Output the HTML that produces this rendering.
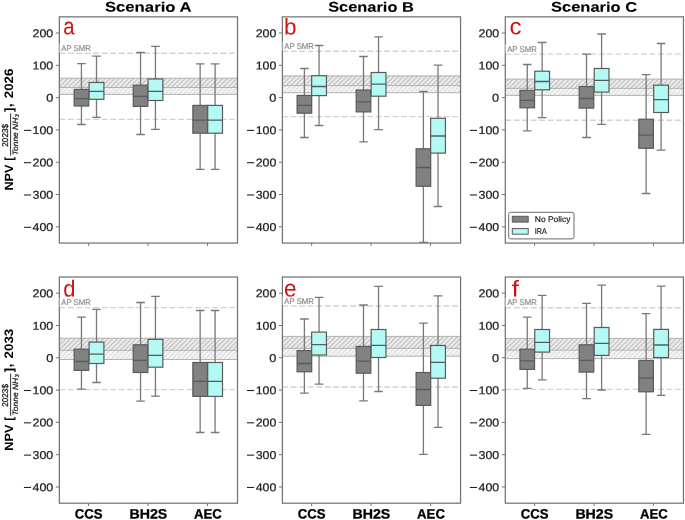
<!DOCTYPE html><html><head><meta charset="utf-8"><style>html,body{margin:0;padding:0;background:#fff;}svg{display:block;will-change:transform;}text{font-family:"Liberation Sans",sans-serif;text-rendering:geometricPrecision;}</style></head><body>
<svg width="685" height="520" viewBox="0 0 685 520">
<defs>
<pattern id="h1" patternUnits="userSpaceOnUse" width="3.32" height="3.32" patternTransform="rotate(45)"><rect width="3.32" height="3.32" fill="#ebebeb"/><line x1="0.5" y1="0" x2="0.5" y2="3.32" stroke="#bcbcbc" stroke-width="1.0"/></pattern>
<pattern id="h2" patternUnits="userSpaceOnUse" width="3.32" height="3.32" patternTransform="rotate(45)"><rect width="3.32" height="3.32" fill="#f5f5f5"/><line x1="0.5" y1="0" x2="0.5" y2="3.32" stroke="#dbdbdb" stroke-width="1.0"/></pattern>
<clipPath id="cpa"><rect x="59.35" y="16.85" width="178.15" height="226.2"/></clipPath>
<clipPath id="cpb"><rect x="282.4" y="16.85" width="178.15" height="226.2"/></clipPath>
<clipPath id="cpc"><rect x="505.3" y="16.85" width="178.15" height="226.2"/></clipPath>
<clipPath id="cpd"><rect x="59.35" y="277.0" width="178.15" height="226.2"/></clipPath>
<clipPath id="cpe"><rect x="282.4" y="277.0" width="178.15" height="226.2"/></clipPath>
<clipPath id="cpf"><rect x="505.3" y="277.0" width="178.15" height="226.2"/></clipPath>
</defs>
<rect width="685" height="520" fill="#fff"/>
<g clip-path="url(#cpa)">
<rect x="59.35" y="78.2" width="178.15" height="9.3" fill="url(#h1)"/>
<rect x="59.35" y="87.5" width="178.15" height="6.9" fill="url(#h2)"/>
<line x1="59.35" x2="237.5" y1="78.2" y2="78.2" stroke="#ababab" stroke-width="0.9"/>
<line x1="59.35" x2="237.5" y1="87.5" y2="87.5" stroke="#ababab" stroke-width="0.9"/>
<line x1="59.35" x2="237.5" y1="94.4" y2="94.4" stroke="#ababab" stroke-width="0.9"/>
<line x1="59.35" x2="237.5" y1="53.3" y2="53.3" stroke="#d2d2d2" stroke-width="1.4" stroke-dasharray="5.85 2.63"/>
<line x1="59.35" x2="237.5" y1="119.4" y2="119.4" stroke="#d2d2d2" stroke-width="1.4" stroke-dasharray="5.85 2.63"/>
<line x1="81.45" x2="81.45" y1="63.6" y2="89.4" stroke="#787878" stroke-width="1.3"/>
<line x1="81.45" x2="81.45" y1="106" y2="124.5" stroke="#787878" stroke-width="1.3"/>
<line x1="77.15" x2="85.75" y1="63.6" y2="63.6" stroke="#787878" stroke-width="1.3"/>
<line x1="77.15" x2="85.75" y1="124.5" y2="124.5" stroke="#787878" stroke-width="1.3"/>
<rect x="74.15" y="89.4" width="14.6" height="16.6" fill="#7f8280" stroke="#5a5a5a" stroke-width="1.2"/>
<line x1="74.15" x2="88.75" y1="98.6" y2="98.6" stroke="#5a5a5a" stroke-width="1.3"/>
<line x1="96.5" x2="96.5" y1="56.1" y2="82.5" stroke="#787878" stroke-width="1.3"/>
<line x1="96.5" x2="96.5" y1="99.3" y2="117.4" stroke="#787878" stroke-width="1.3"/>
<line x1="92.2" x2="100.8" y1="56.1" y2="56.1" stroke="#787878" stroke-width="1.3"/>
<line x1="92.2" x2="100.8" y1="117.4" y2="117.4" stroke="#787878" stroke-width="1.3"/>
<rect x="89.1" y="82.5" width="14.8" height="16.8" fill="#b4faf4" stroke="#5a5a5a" stroke-width="1.2"/>
<line x1="89.1" x2="103.9" y1="91.4" y2="91.4" stroke="#5a5a5a" stroke-width="1.3"/>
<line x1="140.55" x2="140.55" y1="52.5" y2="85.2" stroke="#787878" stroke-width="1.3"/>
<line x1="140.55" x2="140.55" y1="106.4" y2="134.5" stroke="#787878" stroke-width="1.3"/>
<line x1="136.25" x2="144.85" y1="52.5" y2="52.5" stroke="#787878" stroke-width="1.3"/>
<line x1="136.25" x2="144.85" y1="134.5" y2="134.5" stroke="#787878" stroke-width="1.3"/>
<rect x="133.25" y="85.2" width="14.6" height="21.2" fill="#7f8280" stroke="#5a5a5a" stroke-width="1.2"/>
<line x1="133.25" x2="147.85" y1="96.4" y2="96.4" stroke="#5a5a5a" stroke-width="1.3"/>
<line x1="155.45" x2="155.45" y1="46.4" y2="79" stroke="#787878" stroke-width="1.3"/>
<line x1="155.45" x2="155.45" y1="100.5" y2="129.4" stroke="#787878" stroke-width="1.3"/>
<line x1="151.15" x2="159.75" y1="46.4" y2="46.4" stroke="#787878" stroke-width="1.3"/>
<line x1="151.15" x2="159.75" y1="129.4" y2="129.4" stroke="#787878" stroke-width="1.3"/>
<rect x="148.05" y="79" width="14.8" height="21.5" fill="#b4faf4" stroke="#5a5a5a" stroke-width="1.2"/>
<line x1="148.05" x2="162.85" y1="91.4" y2="91.4" stroke="#5a5a5a" stroke-width="1.3"/>
<line x1="200.15" x2="200.15" y1="63.8" y2="105.4" stroke="#787878" stroke-width="1.3"/>
<line x1="200.15" x2="200.15" y1="133.2" y2="169.4" stroke="#787878" stroke-width="1.3"/>
<line x1="195.85" x2="204.45" y1="63.8" y2="63.8" stroke="#787878" stroke-width="1.3"/>
<line x1="195.85" x2="204.45" y1="169.4" y2="169.4" stroke="#787878" stroke-width="1.3"/>
<rect x="192.85" y="105.4" width="14.6" height="27.8" fill="#7f8280" stroke="#5a5a5a" stroke-width="1.2"/>
<line x1="192.85" x2="207.45" y1="120.2" y2="120.2" stroke="#5a5a5a" stroke-width="1.3"/>
<line x1="215.1" x2="215.1" y1="63.8" y2="105.4" stroke="#787878" stroke-width="1.3"/>
<line x1="215.1" x2="215.1" y1="133.2" y2="169.4" stroke="#787878" stroke-width="1.3"/>
<line x1="210.8" x2="219.4" y1="63.8" y2="63.8" stroke="#787878" stroke-width="1.3"/>
<line x1="210.8" x2="219.4" y1="169.4" y2="169.4" stroke="#787878" stroke-width="1.3"/>
<rect x="207.7" y="105.4" width="14.8" height="27.8" fill="#b4faf4" stroke="#5a5a5a" stroke-width="1.2"/>
<line x1="207.7" x2="222.5" y1="120.2" y2="120.2" stroke="#5a5a5a" stroke-width="1.3"/>
</g>
<rect x="59.35" y="16.85" width="178.15" height="226.2" fill="none" stroke="#747474" stroke-width="1.25"/>
<line x1="88.6" x2="88.6" y1="243.05" y2="245.85" stroke="#747474" stroke-width="1"/>
<line x1="148.05" x2="148.05" y1="243.05" y2="245.85" stroke="#747474" stroke-width="1"/>
<line x1="207.5" x2="207.5" y1="243.05" y2="245.85" stroke="#747474" stroke-width="1"/>
<rect x="59.35" y="43.4" width="32.5" height="9.3" fill="#fff" fill-opacity="0.55"/>
<text x="61.25" y="50.9" font-size="8.3" fill="#8a8a8a" stroke="#8a8a8a" stroke-width="0.18" textLength="29.6" lengthAdjust="spacingAndGlyphs">AP SMR</text>
<line x1="55.85" x2="59.35" y1="33" y2="33" stroke="#747474" stroke-width="1"/>
<text x="53.25" y="37.25" transform="rotate(0.1 53.25 37.25)" font-size="11.4" fill="#1a1a1a" stroke="#1a1a1a" stroke-width="0.22" text-anchor="end" textLength="20.64" lengthAdjust="spacingAndGlyphs">200</text>
<line x1="55.85" x2="59.35" y1="65.31" y2="65.31" stroke="#747474" stroke-width="1"/>
<text x="53.25" y="69.56" transform="rotate(0.1 53.25 69.56)" font-size="11.4" fill="#1a1a1a" stroke="#1a1a1a" stroke-width="0.22" text-anchor="end" textLength="20.64" lengthAdjust="spacingAndGlyphs">100</text>
<line x1="55.85" x2="59.35" y1="97.61" y2="97.61" stroke="#747474" stroke-width="1"/>
<text x="53.25" y="101.86" transform="rotate(0.1 53.25 101.86)" font-size="11.4" fill="#1a1a1a" stroke="#1a1a1a" stroke-width="0.22" text-anchor="end" textLength="7.08" lengthAdjust="spacingAndGlyphs">0</text>
<line x1="55.85" x2="59.35" y1="129.92" y2="129.92" stroke="#747474" stroke-width="1"/>
<text x="53.25" y="134.17" transform="rotate(0.1 53.25 134.17)" font-size="11.4" fill="#1a1a1a" stroke="#1a1a1a" stroke-width="0.22" text-anchor="end" textLength="20.64" lengthAdjust="spacingAndGlyphs">100</text>
<line x1="23.9" x2="31.1" y1="130.37" y2="130.37" stroke="#1a1a1a" stroke-width="1.05"/>
<line x1="55.85" x2="59.35" y1="162.23" y2="162.23" stroke="#747474" stroke-width="1"/>
<text x="53.25" y="166.48" transform="rotate(0.1 53.25 166.48)" font-size="11.4" fill="#1a1a1a" stroke="#1a1a1a" stroke-width="0.22" text-anchor="end" textLength="20.64" lengthAdjust="spacingAndGlyphs">200</text>
<line x1="23.9" x2="31.1" y1="162.68" y2="162.68" stroke="#1a1a1a" stroke-width="1.05"/>
<line x1="55.85" x2="59.35" y1="194.54" y2="194.54" stroke="#747474" stroke-width="1"/>
<text x="53.25" y="198.79" transform="rotate(0.1 53.25 198.79)" font-size="11.4" fill="#1a1a1a" stroke="#1a1a1a" stroke-width="0.22" text-anchor="end" textLength="20.64" lengthAdjust="spacingAndGlyphs">300</text>
<line x1="23.9" x2="31.1" y1="194.99" y2="194.99" stroke="#1a1a1a" stroke-width="1.05"/>
<line x1="55.85" x2="59.35" y1="226.84" y2="226.84" stroke="#747474" stroke-width="1"/>
<text x="53.25" y="231.09" transform="rotate(0.1 53.25 231.09)" font-size="11.4" fill="#1a1a1a" stroke="#1a1a1a" stroke-width="0.22" text-anchor="end" textLength="20.64" lengthAdjust="spacingAndGlyphs">400</text>
<line x1="23.9" x2="31.1" y1="227.29" y2="227.29" stroke="#1a1a1a" stroke-width="1.05"/>
<text transform="translate(68.9,34.35) rotate(0.1) scale(0.92,1.07)" text-anchor="middle" font-size="22" fill="#d0120c">a</text>
<g clip-path="url(#cpb)">
<rect x="282.4" y="75.9" width="178.15" height="9.7" fill="url(#h1)"/>
<rect x="282.4" y="85.6" width="178.15" height="7.1" fill="url(#h2)"/>
<line x1="282.4" x2="460.54999999999995" y1="75.9" y2="75.9" stroke="#ababab" stroke-width="0.9"/>
<line x1="282.4" x2="460.54999999999995" y1="85.6" y2="85.6" stroke="#ababab" stroke-width="0.9"/>
<line x1="282.4" x2="460.54999999999995" y1="92.7" y2="92.7" stroke="#ababab" stroke-width="0.9"/>
<line x1="282.4" x2="460.54999999999995" y1="51.3" y2="51.3" stroke="#d2d2d2" stroke-width="1.4" stroke-dasharray="5.85 2.63"/>
<line x1="282.4" x2="460.54999999999995" y1="116.6" y2="116.6" stroke="#d2d2d2" stroke-width="1.4" stroke-dasharray="5.85 2.63"/>
<line x1="304.4" x2="304.4" y1="68.5" y2="95.4" stroke="#787878" stroke-width="1.3"/>
<line x1="304.4" x2="304.4" y1="113.2" y2="137.5" stroke="#787878" stroke-width="1.3"/>
<line x1="300.1" x2="308.7" y1="68.5" y2="68.5" stroke="#787878" stroke-width="1.3"/>
<line x1="300.1" x2="308.7" y1="137.5" y2="137.5" stroke="#787878" stroke-width="1.3"/>
<rect x="297.1" y="95.4" width="14.6" height="17.8" fill="#7f8280" stroke="#5a5a5a" stroke-width="1.2"/>
<line x1="297.1" x2="311.7" y1="105.4" y2="105.4" stroke="#5a5a5a" stroke-width="1.3"/>
<line x1="319.05" x2="319.05" y1="45.5" y2="75.7" stroke="#787878" stroke-width="1.3"/>
<line x1="319.05" x2="319.05" y1="95.6" y2="125.5" stroke="#787878" stroke-width="1.3"/>
<line x1="314.75" x2="323.35" y1="45.5" y2="45.5" stroke="#787878" stroke-width="1.3"/>
<line x1="314.75" x2="323.35" y1="125.5" y2="125.5" stroke="#787878" stroke-width="1.3"/>
<rect x="311.65" y="75.7" width="14.8" height="19.9" fill="#b4faf4" stroke="#5a5a5a" stroke-width="1.2"/>
<line x1="311.65" x2="326.45" y1="86.5" y2="86.5" stroke="#5a5a5a" stroke-width="1.3"/>
<line x1="363.5" x2="363.5" y1="56.5" y2="90" stroke="#787878" stroke-width="1.3"/>
<line x1="363.5" x2="363.5" y1="111.9" y2="141.9" stroke="#787878" stroke-width="1.3"/>
<line x1="359.2" x2="367.8" y1="56.5" y2="56.5" stroke="#787878" stroke-width="1.3"/>
<line x1="359.2" x2="367.8" y1="141.9" y2="141.9" stroke="#787878" stroke-width="1.3"/>
<rect x="356.2" y="90" width="14.6" height="21.9" fill="#7f8280" stroke="#5a5a5a" stroke-width="1.2"/>
<line x1="356.2" x2="370.8" y1="101.9" y2="101.9" stroke="#5a5a5a" stroke-width="1.3"/>
<line x1="378.55" x2="378.55" y1="36.8" y2="72.5" stroke="#787878" stroke-width="1.3"/>
<line x1="378.55" x2="378.55" y1="96.2" y2="129.7" stroke="#787878" stroke-width="1.3"/>
<line x1="374.25" x2="382.85" y1="36.8" y2="36.8" stroke="#787878" stroke-width="1.3"/>
<line x1="374.25" x2="382.85" y1="129.7" y2="129.7" stroke="#787878" stroke-width="1.3"/>
<rect x="371.15" y="72.5" width="14.8" height="23.7" fill="#b4faf4" stroke="#5a5a5a" stroke-width="1.2"/>
<line x1="371.15" x2="385.95" y1="84.2" y2="84.2" stroke="#5a5a5a" stroke-width="1.3"/>
<line x1="423.4" x2="423.4" y1="91.5" y2="148.8" stroke="#787878" stroke-width="1.3"/>
<line x1="423.4" x2="423.4" y1="186.3" y2="242.5" stroke="#787878" stroke-width="1.3"/>
<line x1="419.1" x2="427.7" y1="91.5" y2="91.5" stroke="#787878" stroke-width="1.3"/>
<line x1="419.1" x2="427.7" y1="242.5" y2="242.5" stroke="#787878" stroke-width="1.3"/>
<rect x="416.1" y="148.8" width="14.6" height="37.5" fill="#7f8280" stroke="#5a5a5a" stroke-width="1.2"/>
<line x1="416.1" x2="430.7" y1="167.5" y2="167.5" stroke="#5a5a5a" stroke-width="1.3"/>
<line x1="438.04" x2="438.04" y1="65.2" y2="118.3" stroke="#787878" stroke-width="1.3"/>
<line x1="438.04" x2="438.04" y1="153.1" y2="206.5" stroke="#787878" stroke-width="1.3"/>
<line x1="433.74" x2="442.34" y1="65.2" y2="65.2" stroke="#787878" stroke-width="1.3"/>
<line x1="433.74" x2="442.34" y1="206.5" y2="206.5" stroke="#787878" stroke-width="1.3"/>
<rect x="430.64" y="118.3" width="14.8" height="34.8" fill="#b4faf4" stroke="#5a5a5a" stroke-width="1.2"/>
<line x1="430.64" x2="445.44" y1="136" y2="136" stroke="#5a5a5a" stroke-width="1.3"/>
</g>
<rect x="282.4" y="16.85" width="178.15" height="226.2" fill="none" stroke="#747474" stroke-width="1.25"/>
<line x1="311.65" x2="311.65" y1="243.05" y2="245.85" stroke="#747474" stroke-width="1"/>
<line x1="371.1" x2="371.1" y1="243.05" y2="245.85" stroke="#747474" stroke-width="1"/>
<line x1="430.55" x2="430.55" y1="243.05" y2="245.85" stroke="#747474" stroke-width="1"/>
<rect x="282.4" y="41.4" width="32.5" height="9.3" fill="#fff" fill-opacity="0.55"/>
<text x="284.3" y="48.9" font-size="8.3" fill="#8a8a8a" stroke="#8a8a8a" stroke-width="0.18" textLength="29.6" lengthAdjust="spacingAndGlyphs">AP SMR</text>
<line x1="278.9" x2="282.4" y1="33" y2="33" stroke="#747474" stroke-width="1"/>
<text x="276.3" y="37.25" transform="rotate(0.1 276.3 37.25)" font-size="11.4" fill="#1a1a1a" stroke="#1a1a1a" stroke-width="0.22" text-anchor="end" textLength="20.64" lengthAdjust="spacingAndGlyphs">200</text>
<line x1="278.9" x2="282.4" y1="65.31" y2="65.31" stroke="#747474" stroke-width="1"/>
<text x="276.3" y="69.56" transform="rotate(0.1 276.3 69.56)" font-size="11.4" fill="#1a1a1a" stroke="#1a1a1a" stroke-width="0.22" text-anchor="end" textLength="20.64" lengthAdjust="spacingAndGlyphs">100</text>
<line x1="278.9" x2="282.4" y1="97.61" y2="97.61" stroke="#747474" stroke-width="1"/>
<text x="276.3" y="101.86" transform="rotate(0.1 276.3 101.86)" font-size="11.4" fill="#1a1a1a" stroke="#1a1a1a" stroke-width="0.22" text-anchor="end" textLength="7.08" lengthAdjust="spacingAndGlyphs">0</text>
<line x1="278.9" x2="282.4" y1="129.92" y2="129.92" stroke="#747474" stroke-width="1"/>
<text x="276.3" y="134.17" transform="rotate(0.1 276.3 134.17)" font-size="11.4" fill="#1a1a1a" stroke="#1a1a1a" stroke-width="0.22" text-anchor="end" textLength="20.64" lengthAdjust="spacingAndGlyphs">100</text>
<line x1="246.95" x2="254.15" y1="130.37" y2="130.37" stroke="#1a1a1a" stroke-width="1.05"/>
<line x1="278.9" x2="282.4" y1="162.23" y2="162.23" stroke="#747474" stroke-width="1"/>
<text x="276.3" y="166.48" transform="rotate(0.1 276.3 166.48)" font-size="11.4" fill="#1a1a1a" stroke="#1a1a1a" stroke-width="0.22" text-anchor="end" textLength="20.64" lengthAdjust="spacingAndGlyphs">200</text>
<line x1="246.95" x2="254.15" y1="162.68" y2="162.68" stroke="#1a1a1a" stroke-width="1.05"/>
<line x1="278.9" x2="282.4" y1="194.54" y2="194.54" stroke="#747474" stroke-width="1"/>
<text x="276.3" y="198.79" transform="rotate(0.1 276.3 198.79)" font-size="11.4" fill="#1a1a1a" stroke="#1a1a1a" stroke-width="0.22" text-anchor="end" textLength="20.64" lengthAdjust="spacingAndGlyphs">300</text>
<line x1="246.95" x2="254.15" y1="194.99" y2="194.99" stroke="#1a1a1a" stroke-width="1.05"/>
<line x1="278.9" x2="282.4" y1="226.84" y2="226.84" stroke="#747474" stroke-width="1"/>
<text x="276.3" y="231.09" transform="rotate(0.1 276.3 231.09)" font-size="11.4" fill="#1a1a1a" stroke="#1a1a1a" stroke-width="0.22" text-anchor="end" textLength="20.64" lengthAdjust="spacingAndGlyphs">400</text>
<line x1="246.95" x2="254.15" y1="227.29" y2="227.29" stroke="#1a1a1a" stroke-width="1.05"/>
<text transform="translate(290.3,34.4) rotate(0.1) scale(1.02,1.03)" text-anchor="middle" font-size="22" fill="#d0120c">b</text>
<g clip-path="url(#cpc)">
<rect x="505.3" y="79.1" width="178.15" height="9.3" fill="url(#h1)"/>
<rect x="505.3" y="88.4" width="178.15" height="7" fill="url(#h2)"/>
<line x1="505.3" x2="683.45" y1="79.1" y2="79.1" stroke="#ababab" stroke-width="0.9"/>
<line x1="505.3" x2="683.45" y1="88.4" y2="88.4" stroke="#ababab" stroke-width="0.9"/>
<line x1="505.3" x2="683.45" y1="95.4" y2="95.4" stroke="#ababab" stroke-width="0.9"/>
<line x1="505.3" x2="683.45" y1="54.1" y2="54.1" stroke="#d2d2d2" stroke-width="1.4" stroke-dasharray="5.85 2.63"/>
<line x1="505.3" x2="683.45" y1="120.2" y2="120.2" stroke="#d2d2d2" stroke-width="1.4" stroke-dasharray="5.85 2.63"/>
<line x1="527.25" x2="527.25" y1="64.5" y2="90.4" stroke="#787878" stroke-width="1.3"/>
<line x1="527.25" x2="527.25" y1="107.8" y2="130.8" stroke="#787878" stroke-width="1.3"/>
<line x1="522.95" x2="531.55" y1="64.5" y2="64.5" stroke="#787878" stroke-width="1.3"/>
<line x1="522.95" x2="531.55" y1="130.8" y2="130.8" stroke="#787878" stroke-width="1.3"/>
<rect x="519.95" y="90.4" width="14.6" height="17.4" fill="#7f8280" stroke="#5a5a5a" stroke-width="1.2"/>
<line x1="519.95" x2="534.55" y1="100.4" y2="100.4" stroke="#5a5a5a" stroke-width="1.3"/>
<line x1="542.15" x2="542.15" y1="42.5" y2="71.2" stroke="#787878" stroke-width="1.3"/>
<line x1="542.15" x2="542.15" y1="89.8" y2="117.7" stroke="#787878" stroke-width="1.3"/>
<line x1="537.85" x2="546.45" y1="42.5" y2="42.5" stroke="#787878" stroke-width="1.3"/>
<line x1="537.85" x2="546.45" y1="117.7" y2="117.7" stroke="#787878" stroke-width="1.3"/>
<rect x="534.75" y="71.2" width="14.8" height="18.6" fill="#b4faf4" stroke="#5a5a5a" stroke-width="1.2"/>
<line x1="534.75" x2="549.55" y1="81.5" y2="81.5" stroke="#5a5a5a" stroke-width="1.3"/>
<line x1="586.5" x2="586.5" y1="54.1" y2="86.5" stroke="#787878" stroke-width="1.3"/>
<line x1="586.5" x2="586.5" y1="108.1" y2="137.5" stroke="#787878" stroke-width="1.3"/>
<line x1="582.2" x2="590.8" y1="54.1" y2="54.1" stroke="#787878" stroke-width="1.3"/>
<line x1="582.2" x2="590.8" y1="137.5" y2="137.5" stroke="#787878" stroke-width="1.3"/>
<rect x="579.2" y="86.5" width="14.6" height="21.6" fill="#7f8280" stroke="#5a5a5a" stroke-width="1.2"/>
<line x1="579.2" x2="593.8" y1="98.5" y2="98.5" stroke="#5a5a5a" stroke-width="1.3"/>
<line x1="601.6" x2="601.6" y1="34" y2="68.5" stroke="#787878" stroke-width="1.3"/>
<line x1="601.6" x2="601.6" y1="92.1" y2="124.3" stroke="#787878" stroke-width="1.3"/>
<line x1="597.3" x2="605.9" y1="34" y2="34" stroke="#787878" stroke-width="1.3"/>
<line x1="597.3" x2="605.9" y1="124.3" y2="124.3" stroke="#787878" stroke-width="1.3"/>
<rect x="594.2" y="68.5" width="14.8" height="23.6" fill="#b4faf4" stroke="#5a5a5a" stroke-width="1.2"/>
<line x1="594.2" x2="609" y1="80.4" y2="80.4" stroke="#5a5a5a" stroke-width="1.3"/>
<line x1="646.1" x2="646.1" y1="74.6" y2="119.2" stroke="#787878" stroke-width="1.3"/>
<line x1="646.1" x2="646.1" y1="148.3" y2="193.5" stroke="#787878" stroke-width="1.3"/>
<line x1="641.8" x2="650.4" y1="74.6" y2="74.6" stroke="#787878" stroke-width="1.3"/>
<line x1="641.8" x2="650.4" y1="193.5" y2="193.5" stroke="#787878" stroke-width="1.3"/>
<rect x="638.8" y="119.2" width="14.6" height="29.1" fill="#7f8280" stroke="#5a5a5a" stroke-width="1.2"/>
<line x1="638.8" x2="653.4" y1="135.2" y2="135.2" stroke="#5a5a5a" stroke-width="1.3"/>
<line x1="661.1" x2="661.1" y1="43.5" y2="85.2" stroke="#787878" stroke-width="1.3"/>
<line x1="661.1" x2="661.1" y1="112.5" y2="150.2" stroke="#787878" stroke-width="1.3"/>
<line x1="656.8" x2="665.4" y1="43.5" y2="43.5" stroke="#787878" stroke-width="1.3"/>
<line x1="656.8" x2="665.4" y1="150.2" y2="150.2" stroke="#787878" stroke-width="1.3"/>
<rect x="653.7" y="85.2" width="14.8" height="27.3" fill="#b4faf4" stroke="#5a5a5a" stroke-width="1.2"/>
<line x1="653.7" x2="668.5" y1="99.6" y2="99.6" stroke="#5a5a5a" stroke-width="1.3"/>
</g>
<rect x="505.3" y="16.85" width="178.15" height="226.2" fill="none" stroke="#747474" stroke-width="1.25"/>
<line x1="534.55" x2="534.55" y1="243.05" y2="245.85" stroke="#747474" stroke-width="1"/>
<line x1="594" x2="594" y1="243.05" y2="245.85" stroke="#747474" stroke-width="1"/>
<line x1="653.45" x2="653.45" y1="243.05" y2="245.85" stroke="#747474" stroke-width="1"/>
<rect x="505.3" y="44.2" width="32.5" height="9.3" fill="#fff" fill-opacity="0.55"/>
<text x="507.2" y="51.7" font-size="8.3" fill="#8a8a8a" stroke="#8a8a8a" stroke-width="0.18" textLength="29.6" lengthAdjust="spacingAndGlyphs">AP SMR</text>
<line x1="501.8" x2="505.3" y1="33" y2="33" stroke="#747474" stroke-width="1"/>
<text x="499.2" y="37.25" transform="rotate(0.1 499.2 37.25)" font-size="11.4" fill="#1a1a1a" stroke="#1a1a1a" stroke-width="0.22" text-anchor="end" textLength="20.64" lengthAdjust="spacingAndGlyphs">200</text>
<line x1="501.8" x2="505.3" y1="65.31" y2="65.31" stroke="#747474" stroke-width="1"/>
<text x="499.2" y="69.56" transform="rotate(0.1 499.2 69.56)" font-size="11.4" fill="#1a1a1a" stroke="#1a1a1a" stroke-width="0.22" text-anchor="end" textLength="20.64" lengthAdjust="spacingAndGlyphs">100</text>
<line x1="501.8" x2="505.3" y1="97.61" y2="97.61" stroke="#747474" stroke-width="1"/>
<text x="499.2" y="101.86" transform="rotate(0.1 499.2 101.86)" font-size="11.4" fill="#1a1a1a" stroke="#1a1a1a" stroke-width="0.22" text-anchor="end" textLength="7.08" lengthAdjust="spacingAndGlyphs">0</text>
<line x1="501.8" x2="505.3" y1="129.92" y2="129.92" stroke="#747474" stroke-width="1"/>
<text x="499.2" y="134.17" transform="rotate(0.1 499.2 134.17)" font-size="11.4" fill="#1a1a1a" stroke="#1a1a1a" stroke-width="0.22" text-anchor="end" textLength="20.64" lengthAdjust="spacingAndGlyphs">100</text>
<line x1="469.85" x2="477.05" y1="130.37" y2="130.37" stroke="#1a1a1a" stroke-width="1.05"/>
<line x1="501.8" x2="505.3" y1="162.23" y2="162.23" stroke="#747474" stroke-width="1"/>
<text x="499.2" y="166.48" transform="rotate(0.1 499.2 166.48)" font-size="11.4" fill="#1a1a1a" stroke="#1a1a1a" stroke-width="0.22" text-anchor="end" textLength="20.64" lengthAdjust="spacingAndGlyphs">200</text>
<line x1="469.85" x2="477.05" y1="162.68" y2="162.68" stroke="#1a1a1a" stroke-width="1.05"/>
<line x1="501.8" x2="505.3" y1="194.54" y2="194.54" stroke="#747474" stroke-width="1"/>
<text x="499.2" y="198.79" transform="rotate(0.1 499.2 198.79)" font-size="11.4" fill="#1a1a1a" stroke="#1a1a1a" stroke-width="0.22" text-anchor="end" textLength="20.64" lengthAdjust="spacingAndGlyphs">300</text>
<line x1="469.85" x2="477.05" y1="194.99" y2="194.99" stroke="#1a1a1a" stroke-width="1.05"/>
<line x1="501.8" x2="505.3" y1="226.84" y2="226.84" stroke="#747474" stroke-width="1"/>
<text x="499.2" y="231.09" transform="rotate(0.1 499.2 231.09)" font-size="11.4" fill="#1a1a1a" stroke="#1a1a1a" stroke-width="0.22" text-anchor="end" textLength="20.64" lengthAdjust="spacingAndGlyphs">400</text>
<line x1="469.85" x2="477.05" y1="227.29" y2="227.29" stroke="#1a1a1a" stroke-width="1.05"/>
<text transform="translate(515.5,34.35) rotate(0.1) scale(1.09,1.05)" text-anchor="middle" font-size="22" fill="#d0120c">c</text>
<g clip-path="url(#cpd)">
<rect x="59.35" y="338.2" width="178.15" height="12.2" fill="url(#h1)"/>
<rect x="59.35" y="350.4" width="178.15" height="9.1" fill="url(#h2)"/>
<line x1="59.35" x2="237.5" y1="338.2" y2="338.2" stroke="#ababab" stroke-width="0.9"/>
<line x1="59.35" x2="237.5" y1="350.4" y2="350.4" stroke="#ababab" stroke-width="0.9"/>
<line x1="59.35" x2="237.5" y1="359.5" y2="359.5" stroke="#ababab" stroke-width="0.9"/>
<line x1="59.35" x2="237.5" y1="307.6" y2="307.6" stroke="#d2d2d2" stroke-width="1.4" stroke-dasharray="5.85 2.63"/>
<line x1="59.35" x2="237.5" y1="389.6" y2="389.6" stroke="#d2d2d2" stroke-width="1.4" stroke-dasharray="5.85 2.63"/>
<line x1="81.45" x2="81.45" y1="317.1" y2="349.2" stroke="#787878" stroke-width="1.3"/>
<line x1="81.45" x2="81.45" y1="370.4" y2="389.1" stroke="#787878" stroke-width="1.3"/>
<line x1="77.15" x2="85.75" y1="317.1" y2="317.1" stroke="#787878" stroke-width="1.3"/>
<line x1="77.15" x2="85.75" y1="389.1" y2="389.1" stroke="#787878" stroke-width="1.3"/>
<rect x="74.15" y="349.2" width="14.6" height="21.2" fill="#7f8280" stroke="#5a5a5a" stroke-width="1.2"/>
<line x1="74.15" x2="88.75" y1="361.5" y2="361.5" stroke="#5a5a5a" stroke-width="1.3"/>
<line x1="96.5" x2="96.5" y1="309.4" y2="342.1" stroke="#787878" stroke-width="1.3"/>
<line x1="96.5" x2="96.5" y1="363.5" y2="382.5" stroke="#787878" stroke-width="1.3"/>
<line x1="92.2" x2="100.8" y1="309.4" y2="309.4" stroke="#787878" stroke-width="1.3"/>
<line x1="92.2" x2="100.8" y1="382.5" y2="382.5" stroke="#787878" stroke-width="1.3"/>
<rect x="89.1" y="342.1" width="14.8" height="21.4" fill="#b4faf4" stroke="#5a5a5a" stroke-width="1.2"/>
<line x1="89.1" x2="103.9" y1="354.2" y2="354.2" stroke="#5a5a5a" stroke-width="1.3"/>
<line x1="140.55" x2="140.55" y1="302.5" y2="344.8" stroke="#787878" stroke-width="1.3"/>
<line x1="140.55" x2="140.55" y1="372.5" y2="401.2" stroke="#787878" stroke-width="1.3"/>
<line x1="136.25" x2="144.85" y1="302.5" y2="302.5" stroke="#787878" stroke-width="1.3"/>
<line x1="136.25" x2="144.85" y1="401.2" y2="401.2" stroke="#787878" stroke-width="1.3"/>
<rect x="133.25" y="344.8" width="14.6" height="27.7" fill="#7f8280" stroke="#5a5a5a" stroke-width="1.2"/>
<line x1="133.25" x2="147.85" y1="360.4" y2="360.4" stroke="#5a5a5a" stroke-width="1.3"/>
<line x1="155.45" x2="155.45" y1="296.4" y2="339.4" stroke="#787878" stroke-width="1.3"/>
<line x1="155.45" x2="155.45" y1="367.2" y2="396.2" stroke="#787878" stroke-width="1.3"/>
<line x1="151.15" x2="159.75" y1="296.4" y2="296.4" stroke="#787878" stroke-width="1.3"/>
<line x1="151.15" x2="159.75" y1="396.2" y2="396.2" stroke="#787878" stroke-width="1.3"/>
<rect x="148.05" y="339.4" width="14.8" height="27.8" fill="#b4faf4" stroke="#5a5a5a" stroke-width="1.2"/>
<line x1="148.05" x2="162.85" y1="355.4" y2="355.4" stroke="#5a5a5a" stroke-width="1.3"/>
<line x1="200.15" x2="200.15" y1="310.5" y2="362.5" stroke="#787878" stroke-width="1.3"/>
<line x1="200.15" x2="200.15" y1="396.4" y2="432.5" stroke="#787878" stroke-width="1.3"/>
<line x1="195.85" x2="204.45" y1="310.5" y2="310.5" stroke="#787878" stroke-width="1.3"/>
<line x1="195.85" x2="204.45" y1="432.5" y2="432.5" stroke="#787878" stroke-width="1.3"/>
<rect x="192.85" y="362.5" width="14.6" height="33.9" fill="#7f8280" stroke="#5a5a5a" stroke-width="1.2"/>
<line x1="192.85" x2="207.45" y1="381.4" y2="381.4" stroke="#5a5a5a" stroke-width="1.3"/>
<line x1="215.1" x2="215.1" y1="310.5" y2="362.5" stroke="#787878" stroke-width="1.3"/>
<line x1="215.1" x2="215.1" y1="396.4" y2="432.5" stroke="#787878" stroke-width="1.3"/>
<line x1="210.8" x2="219.4" y1="310.5" y2="310.5" stroke="#787878" stroke-width="1.3"/>
<line x1="210.8" x2="219.4" y1="432.5" y2="432.5" stroke="#787878" stroke-width="1.3"/>
<rect x="207.7" y="362.5" width="14.8" height="33.9" fill="#b4faf4" stroke="#5a5a5a" stroke-width="1.2"/>
<line x1="207.7" x2="222.5" y1="381.4" y2="381.4" stroke="#5a5a5a" stroke-width="1.3"/>
</g>
<rect x="59.35" y="277" width="178.15" height="226.2" fill="none" stroke="#747474" stroke-width="1.25"/>
<line x1="88.6" x2="88.6" y1="503.2" y2="506" stroke="#747474" stroke-width="1"/>
<line x1="148.05" x2="148.05" y1="503.2" y2="506" stroke="#747474" stroke-width="1"/>
<line x1="207.5" x2="207.5" y1="503.2" y2="506" stroke="#747474" stroke-width="1"/>
<rect x="59.35" y="297.7" width="32.5" height="9.3" fill="#fff" fill-opacity="0.55"/>
<text x="61.25" y="305.2" font-size="8.3" fill="#8a8a8a" stroke="#8a8a8a" stroke-width="0.18" textLength="29.6" lengthAdjust="spacingAndGlyphs">AP SMR</text>
<line x1="55.85" x2="59.35" y1="293.15" y2="293.15" stroke="#747474" stroke-width="1"/>
<text x="53.25" y="297.4" transform="rotate(0.1 53.25 297.4)" font-size="11.4" fill="#1a1a1a" stroke="#1a1a1a" stroke-width="0.22" text-anchor="end" textLength="20.64" lengthAdjust="spacingAndGlyphs">200</text>
<line x1="55.85" x2="59.35" y1="325.46" y2="325.46" stroke="#747474" stroke-width="1"/>
<text x="53.25" y="329.71" transform="rotate(0.1 53.25 329.71)" font-size="11.4" fill="#1a1a1a" stroke="#1a1a1a" stroke-width="0.22" text-anchor="end" textLength="20.64" lengthAdjust="spacingAndGlyphs">100</text>
<line x1="55.85" x2="59.35" y1="357.76" y2="357.76" stroke="#747474" stroke-width="1"/>
<text x="53.25" y="362.01" transform="rotate(0.1 53.25 362.01)" font-size="11.4" fill="#1a1a1a" stroke="#1a1a1a" stroke-width="0.22" text-anchor="end" textLength="7.08" lengthAdjust="spacingAndGlyphs">0</text>
<line x1="55.85" x2="59.35" y1="390.07" y2="390.07" stroke="#747474" stroke-width="1"/>
<text x="53.25" y="394.32" transform="rotate(0.1 53.25 394.32)" font-size="11.4" fill="#1a1a1a" stroke="#1a1a1a" stroke-width="0.22" text-anchor="end" textLength="20.64" lengthAdjust="spacingAndGlyphs">100</text>
<line x1="23.9" x2="31.1" y1="390.52" y2="390.52" stroke="#1a1a1a" stroke-width="1.05"/>
<line x1="55.85" x2="59.35" y1="422.38" y2="422.38" stroke="#747474" stroke-width="1"/>
<text x="53.25" y="426.63" transform="rotate(0.1 53.25 426.63)" font-size="11.4" fill="#1a1a1a" stroke="#1a1a1a" stroke-width="0.22" text-anchor="end" textLength="20.64" lengthAdjust="spacingAndGlyphs">200</text>
<line x1="23.9" x2="31.1" y1="422.83" y2="422.83" stroke="#1a1a1a" stroke-width="1.05"/>
<line x1="55.85" x2="59.35" y1="454.69" y2="454.69" stroke="#747474" stroke-width="1"/>
<text x="53.25" y="458.94" transform="rotate(0.1 53.25 458.94)" font-size="11.4" fill="#1a1a1a" stroke="#1a1a1a" stroke-width="0.22" text-anchor="end" textLength="20.64" lengthAdjust="spacingAndGlyphs">300</text>
<line x1="23.9" x2="31.1" y1="455.13" y2="455.13" stroke="#1a1a1a" stroke-width="1.05"/>
<line x1="55.85" x2="59.35" y1="486.99" y2="486.99" stroke="#747474" stroke-width="1"/>
<text x="53.25" y="491.24" transform="rotate(0.1 53.25 491.24)" font-size="11.4" fill="#1a1a1a" stroke="#1a1a1a" stroke-width="0.22" text-anchor="end" textLength="20.64" lengthAdjust="spacingAndGlyphs">400</text>
<line x1="23.9" x2="31.1" y1="487.44" y2="487.44" stroke="#1a1a1a" stroke-width="1.05"/>
<text transform="translate(69.45,296.6) rotate(0.1) scale(1,1.05)" text-anchor="middle" font-size="22" fill="#d0120c">d</text>
<g clip-path="url(#cpe)">
<rect x="282.4" y="336.4" width="178.15" height="12" fill="url(#h1)"/>
<rect x="282.4" y="348.4" width="178.15" height="7.8" fill="url(#h2)"/>
<line x1="282.4" x2="460.54999999999995" y1="336.4" y2="336.4" stroke="#ababab" stroke-width="0.9"/>
<line x1="282.4" x2="460.54999999999995" y1="348.4" y2="348.4" stroke="#ababab" stroke-width="0.9"/>
<line x1="282.4" x2="460.54999999999995" y1="356.2" y2="356.2" stroke="#ababab" stroke-width="0.9"/>
<line x1="282.4" x2="460.54999999999995" y1="306" y2="306" stroke="#d2d2d2" stroke-width="1.4" stroke-dasharray="5.85 2.63"/>
<line x1="282.4" x2="460.54999999999995" y1="387" y2="387" stroke="#d2d2d2" stroke-width="1.4" stroke-dasharray="5.85 2.63"/>
<line x1="304.4" x2="304.4" y1="319" y2="350.6" stroke="#787878" stroke-width="1.3"/>
<line x1="304.4" x2="304.4" y1="371.8" y2="393.2" stroke="#787878" stroke-width="1.3"/>
<line x1="300.1" x2="308.7" y1="319" y2="319" stroke="#787878" stroke-width="1.3"/>
<line x1="300.1" x2="308.7" y1="393.2" y2="393.2" stroke="#787878" stroke-width="1.3"/>
<rect x="297.1" y="350.6" width="14.6" height="21.2" fill="#7f8280" stroke="#5a5a5a" stroke-width="1.2"/>
<line x1="297.1" x2="311.7" y1="363.5" y2="363.5" stroke="#5a5a5a" stroke-width="1.3"/>
<line x1="319.05" x2="319.05" y1="297.3" y2="332.1" stroke="#787878" stroke-width="1.3"/>
<line x1="319.05" x2="319.05" y1="355" y2="384.2" stroke="#787878" stroke-width="1.3"/>
<line x1="314.75" x2="323.35" y1="297.3" y2="297.3" stroke="#787878" stroke-width="1.3"/>
<line x1="314.75" x2="323.35" y1="384.2" y2="384.2" stroke="#787878" stroke-width="1.3"/>
<rect x="311.65" y="332.1" width="14.8" height="22.9" fill="#b4faf4" stroke="#5a5a5a" stroke-width="1.2"/>
<line x1="311.65" x2="326.45" y1="344.6" y2="344.6" stroke="#5a5a5a" stroke-width="1.3"/>
<line x1="363.5" x2="363.5" y1="305" y2="346.4" stroke="#787878" stroke-width="1.3"/>
<line x1="363.5" x2="363.5" y1="373.2" y2="400.8" stroke="#787878" stroke-width="1.3"/>
<line x1="359.2" x2="367.8" y1="305" y2="305" stroke="#787878" stroke-width="1.3"/>
<line x1="359.2" x2="367.8" y1="400.8" y2="400.8" stroke="#787878" stroke-width="1.3"/>
<rect x="356.2" y="346.4" width="14.6" height="26.8" fill="#7f8280" stroke="#5a5a5a" stroke-width="1.2"/>
<line x1="356.2" x2="370.8" y1="361.2" y2="361.2" stroke="#5a5a5a" stroke-width="1.3"/>
<line x1="378.55" x2="378.55" y1="286.3" y2="329.5" stroke="#787878" stroke-width="1.3"/>
<line x1="378.55" x2="378.55" y1="357.5" y2="391.5" stroke="#787878" stroke-width="1.3"/>
<line x1="374.25" x2="382.85" y1="286.3" y2="286.3" stroke="#787878" stroke-width="1.3"/>
<line x1="374.25" x2="382.85" y1="391.5" y2="391.5" stroke="#787878" stroke-width="1.3"/>
<rect x="371.15" y="329.5" width="14.8" height="28" fill="#b4faf4" stroke="#5a5a5a" stroke-width="1.2"/>
<line x1="371.15" x2="385.95" y1="345.4" y2="345.4" stroke="#5a5a5a" stroke-width="1.3"/>
<line x1="423.4" x2="423.4" y1="323.1" y2="372.5" stroke="#787878" stroke-width="1.3"/>
<line x1="423.4" x2="423.4" y1="405.4" y2="454.4" stroke="#787878" stroke-width="1.3"/>
<line x1="419.1" x2="427.7" y1="323.1" y2="323.1" stroke="#787878" stroke-width="1.3"/>
<line x1="419.1" x2="427.7" y1="454.4" y2="454.4" stroke="#787878" stroke-width="1.3"/>
<rect x="416.1" y="372.5" width="14.6" height="32.9" fill="#7f8280" stroke="#5a5a5a" stroke-width="1.2"/>
<line x1="416.1" x2="430.7" y1="389.5" y2="389.5" stroke="#5a5a5a" stroke-width="1.3"/>
<line x1="438.04" x2="438.04" y1="295.8" y2="345.5" stroke="#787878" stroke-width="1.3"/>
<line x1="438.04" x2="438.04" y1="378.2" y2="427.3" stroke="#787878" stroke-width="1.3"/>
<line x1="433.74" x2="442.34" y1="295.8" y2="295.8" stroke="#787878" stroke-width="1.3"/>
<line x1="433.74" x2="442.34" y1="427.3" y2="427.3" stroke="#787878" stroke-width="1.3"/>
<rect x="430.64" y="345.5" width="14.8" height="32.7" fill="#b4faf4" stroke="#5a5a5a" stroke-width="1.2"/>
<line x1="430.64" x2="445.44" y1="362.3" y2="362.3" stroke="#5a5a5a" stroke-width="1.3"/>
</g>
<rect x="282.4" y="277" width="178.15" height="226.2" fill="none" stroke="#747474" stroke-width="1.25"/>
<line x1="311.65" x2="311.65" y1="503.2" y2="506" stroke="#747474" stroke-width="1"/>
<line x1="371.1" x2="371.1" y1="503.2" y2="506" stroke="#747474" stroke-width="1"/>
<line x1="430.55" x2="430.55" y1="503.2" y2="506" stroke="#747474" stroke-width="1"/>
<rect x="282.4" y="296.1" width="32.5" height="9.3" fill="#fff" fill-opacity="0.55"/>
<text x="284.3" y="303.6" font-size="8.3" fill="#8a8a8a" stroke="#8a8a8a" stroke-width="0.18" textLength="29.6" lengthAdjust="spacingAndGlyphs">AP SMR</text>
<line x1="278.9" x2="282.4" y1="293.15" y2="293.15" stroke="#747474" stroke-width="1"/>
<text x="276.3" y="297.4" transform="rotate(0.1 276.3 297.4)" font-size="11.4" fill="#1a1a1a" stroke="#1a1a1a" stroke-width="0.22" text-anchor="end" textLength="20.64" lengthAdjust="spacingAndGlyphs">200</text>
<line x1="278.9" x2="282.4" y1="325.46" y2="325.46" stroke="#747474" stroke-width="1"/>
<text x="276.3" y="329.71" transform="rotate(0.1 276.3 329.71)" font-size="11.4" fill="#1a1a1a" stroke="#1a1a1a" stroke-width="0.22" text-anchor="end" textLength="20.64" lengthAdjust="spacingAndGlyphs">100</text>
<line x1="278.9" x2="282.4" y1="357.76" y2="357.76" stroke="#747474" stroke-width="1"/>
<text x="276.3" y="362.01" transform="rotate(0.1 276.3 362.01)" font-size="11.4" fill="#1a1a1a" stroke="#1a1a1a" stroke-width="0.22" text-anchor="end" textLength="7.08" lengthAdjust="spacingAndGlyphs">0</text>
<line x1="278.9" x2="282.4" y1="390.07" y2="390.07" stroke="#747474" stroke-width="1"/>
<text x="276.3" y="394.32" transform="rotate(0.1 276.3 394.32)" font-size="11.4" fill="#1a1a1a" stroke="#1a1a1a" stroke-width="0.22" text-anchor="end" textLength="20.64" lengthAdjust="spacingAndGlyphs">100</text>
<line x1="246.95" x2="254.15" y1="390.52" y2="390.52" stroke="#1a1a1a" stroke-width="1.05"/>
<line x1="278.9" x2="282.4" y1="422.38" y2="422.38" stroke="#747474" stroke-width="1"/>
<text x="276.3" y="426.63" transform="rotate(0.1 276.3 426.63)" font-size="11.4" fill="#1a1a1a" stroke="#1a1a1a" stroke-width="0.22" text-anchor="end" textLength="20.64" lengthAdjust="spacingAndGlyphs">200</text>
<line x1="246.95" x2="254.15" y1="422.83" y2="422.83" stroke="#1a1a1a" stroke-width="1.05"/>
<line x1="278.9" x2="282.4" y1="454.69" y2="454.69" stroke="#747474" stroke-width="1"/>
<text x="276.3" y="458.94" transform="rotate(0.1 276.3 458.94)" font-size="11.4" fill="#1a1a1a" stroke="#1a1a1a" stroke-width="0.22" text-anchor="end" textLength="20.64" lengthAdjust="spacingAndGlyphs">300</text>
<line x1="246.95" x2="254.15" y1="455.13" y2="455.13" stroke="#1a1a1a" stroke-width="1.05"/>
<line x1="278.9" x2="282.4" y1="486.99" y2="486.99" stroke="#747474" stroke-width="1"/>
<text x="276.3" y="491.24" transform="rotate(0.1 276.3 491.24)" font-size="11.4" fill="#1a1a1a" stroke="#1a1a1a" stroke-width="0.22" text-anchor="end" textLength="20.64" lengthAdjust="spacingAndGlyphs">400</text>
<line x1="246.95" x2="254.15" y1="487.44" y2="487.44" stroke="#1a1a1a" stroke-width="1.05"/>
<text transform="translate(290.25,296.6) rotate(0.1) scale(1.02,1.09)" text-anchor="middle" font-size="22" fill="#d0120c">e</text>
<g clip-path="url(#cpf)">
<rect x="505.3" y="338.4" width="178.15" height="11.8" fill="url(#h1)"/>
<rect x="505.3" y="350.2" width="178.15" height="8.4" fill="url(#h2)"/>
<line x1="505.3" x2="683.45" y1="338.4" y2="338.4" stroke="#ababab" stroke-width="0.9"/>
<line x1="505.3" x2="683.45" y1="350.2" y2="350.2" stroke="#ababab" stroke-width="0.9"/>
<line x1="505.3" x2="683.45" y1="358.6" y2="358.6" stroke="#ababab" stroke-width="0.9"/>
<line x1="505.3" x2="683.45" y1="307.7" y2="307.7" stroke="#d2d2d2" stroke-width="1.4" stroke-dasharray="5.85 2.63"/>
<line x1="505.3" x2="683.45" y1="389.4" y2="389.4" stroke="#d2d2d2" stroke-width="1.4" stroke-dasharray="5.85 2.63"/>
<line x1="527.25" x2="527.25" y1="317.2" y2="349.2" stroke="#787878" stroke-width="1.3"/>
<line x1="527.25" x2="527.25" y1="369.4" y2="388.3" stroke="#787878" stroke-width="1.3"/>
<line x1="522.95" x2="531.55" y1="317.2" y2="317.2" stroke="#787878" stroke-width="1.3"/>
<line x1="522.95" x2="531.55" y1="388.3" y2="388.3" stroke="#787878" stroke-width="1.3"/>
<rect x="519.95" y="349.2" width="14.6" height="20.2" fill="#7f8280" stroke="#5a5a5a" stroke-width="1.2"/>
<line x1="519.95" x2="534.55" y1="360.8" y2="360.8" stroke="#5a5a5a" stroke-width="1.3"/>
<line x1="542.15" x2="542.15" y1="295.4" y2="329.5" stroke="#787878" stroke-width="1.3"/>
<line x1="542.15" x2="542.15" y1="352.1" y2="379.8" stroke="#787878" stroke-width="1.3"/>
<line x1="537.85" x2="546.45" y1="295.4" y2="295.4" stroke="#787878" stroke-width="1.3"/>
<line x1="537.85" x2="546.45" y1="379.8" y2="379.8" stroke="#787878" stroke-width="1.3"/>
<rect x="534.75" y="329.5" width="14.8" height="22.6" fill="#b4faf4" stroke="#5a5a5a" stroke-width="1.2"/>
<line x1="534.75" x2="549.55" y1="342.3" y2="342.3" stroke="#5a5a5a" stroke-width="1.3"/>
<line x1="586.5" x2="586.5" y1="303.3" y2="344.8" stroke="#787878" stroke-width="1.3"/>
<line x1="586.5" x2="586.5" y1="372.1" y2="398.7" stroke="#787878" stroke-width="1.3"/>
<line x1="582.2" x2="590.8" y1="303.3" y2="303.3" stroke="#787878" stroke-width="1.3"/>
<line x1="582.2" x2="590.8" y1="398.7" y2="398.7" stroke="#787878" stroke-width="1.3"/>
<rect x="579.2" y="344.8" width="14.6" height="27.3" fill="#7f8280" stroke="#5a5a5a" stroke-width="1.2"/>
<line x1="579.2" x2="593.8" y1="360.4" y2="360.4" stroke="#5a5a5a" stroke-width="1.3"/>
<line x1="601.6" x2="601.6" y1="285.2" y2="327.5" stroke="#787878" stroke-width="1.3"/>
<line x1="601.6" x2="601.6" y1="355.4" y2="390" stroke="#787878" stroke-width="1.3"/>
<line x1="597.3" x2="605.9" y1="285.2" y2="285.2" stroke="#787878" stroke-width="1.3"/>
<line x1="597.3" x2="605.9" y1="390" y2="390" stroke="#787878" stroke-width="1.3"/>
<rect x="594.2" y="327.5" width="14.8" height="27.9" fill="#b4faf4" stroke="#5a5a5a" stroke-width="1.2"/>
<line x1="594.2" x2="609" y1="343.3" y2="343.3" stroke="#5a5a5a" stroke-width="1.3"/>
<line x1="646.1" x2="646.1" y1="313.7" y2="360.4" stroke="#787878" stroke-width="1.3"/>
<line x1="646.1" x2="646.1" y1="391.8" y2="434.4" stroke="#787878" stroke-width="1.3"/>
<line x1="641.8" x2="650.4" y1="313.7" y2="313.7" stroke="#787878" stroke-width="1.3"/>
<line x1="641.8" x2="650.4" y1="434.4" y2="434.4" stroke="#787878" stroke-width="1.3"/>
<rect x="638.8" y="360.4" width="14.6" height="31.4" fill="#7f8280" stroke="#5a5a5a" stroke-width="1.2"/>
<line x1="638.8" x2="653.4" y1="378.2" y2="378.2" stroke="#5a5a5a" stroke-width="1.3"/>
<line x1="661.1" x2="661.1" y1="286.2" y2="329.4" stroke="#787878" stroke-width="1.3"/>
<line x1="661.1" x2="661.1" y1="357.5" y2="395.4" stroke="#787878" stroke-width="1.3"/>
<line x1="656.8" x2="665.4" y1="286.2" y2="286.2" stroke="#787878" stroke-width="1.3"/>
<line x1="656.8" x2="665.4" y1="395.4" y2="395.4" stroke="#787878" stroke-width="1.3"/>
<rect x="653.7" y="329.4" width="14.8" height="28.1" fill="#b4faf4" stroke="#5a5a5a" stroke-width="1.2"/>
<line x1="653.7" x2="668.5" y1="345" y2="345" stroke="#5a5a5a" stroke-width="1.3"/>
</g>
<rect x="505.3" y="277" width="178.15" height="226.2" fill="none" stroke="#747474" stroke-width="1.25"/>
<line x1="534.55" x2="534.55" y1="503.2" y2="506" stroke="#747474" stroke-width="1"/>
<line x1="594" x2="594" y1="503.2" y2="506" stroke="#747474" stroke-width="1"/>
<line x1="653.45" x2="653.45" y1="503.2" y2="506" stroke="#747474" stroke-width="1"/>
<rect x="505.3" y="297.8" width="32.5" height="9.3" fill="#fff" fill-opacity="0.55"/>
<text x="507.2" y="305.3" font-size="8.3" fill="#8a8a8a" stroke="#8a8a8a" stroke-width="0.18" textLength="29.6" lengthAdjust="spacingAndGlyphs">AP SMR</text>
<line x1="501.8" x2="505.3" y1="293.15" y2="293.15" stroke="#747474" stroke-width="1"/>
<text x="499.2" y="297.4" transform="rotate(0.1 499.2 297.4)" font-size="11.4" fill="#1a1a1a" stroke="#1a1a1a" stroke-width="0.22" text-anchor="end" textLength="20.64" lengthAdjust="spacingAndGlyphs">200</text>
<line x1="501.8" x2="505.3" y1="325.46" y2="325.46" stroke="#747474" stroke-width="1"/>
<text x="499.2" y="329.71" transform="rotate(0.1 499.2 329.71)" font-size="11.4" fill="#1a1a1a" stroke="#1a1a1a" stroke-width="0.22" text-anchor="end" textLength="20.64" lengthAdjust="spacingAndGlyphs">100</text>
<line x1="501.8" x2="505.3" y1="357.76" y2="357.76" stroke="#747474" stroke-width="1"/>
<text x="499.2" y="362.01" transform="rotate(0.1 499.2 362.01)" font-size="11.4" fill="#1a1a1a" stroke="#1a1a1a" stroke-width="0.22" text-anchor="end" textLength="7.08" lengthAdjust="spacingAndGlyphs">0</text>
<line x1="501.8" x2="505.3" y1="390.07" y2="390.07" stroke="#747474" stroke-width="1"/>
<text x="499.2" y="394.32" transform="rotate(0.1 499.2 394.32)" font-size="11.4" fill="#1a1a1a" stroke="#1a1a1a" stroke-width="0.22" text-anchor="end" textLength="20.64" lengthAdjust="spacingAndGlyphs">100</text>
<line x1="469.85" x2="477.05" y1="390.52" y2="390.52" stroke="#1a1a1a" stroke-width="1.05"/>
<line x1="501.8" x2="505.3" y1="422.38" y2="422.38" stroke="#747474" stroke-width="1"/>
<text x="499.2" y="426.63" transform="rotate(0.1 499.2 426.63)" font-size="11.4" fill="#1a1a1a" stroke="#1a1a1a" stroke-width="0.22" text-anchor="end" textLength="20.64" lengthAdjust="spacingAndGlyphs">200</text>
<line x1="469.85" x2="477.05" y1="422.83" y2="422.83" stroke="#1a1a1a" stroke-width="1.05"/>
<line x1="501.8" x2="505.3" y1="454.69" y2="454.69" stroke="#747474" stroke-width="1"/>
<text x="499.2" y="458.94" transform="rotate(0.1 499.2 458.94)" font-size="11.4" fill="#1a1a1a" stroke="#1a1a1a" stroke-width="0.22" text-anchor="end" textLength="20.64" lengthAdjust="spacingAndGlyphs">300</text>
<line x1="469.85" x2="477.05" y1="455.13" y2="455.13" stroke="#1a1a1a" stroke-width="1.05"/>
<line x1="501.8" x2="505.3" y1="486.99" y2="486.99" stroke="#747474" stroke-width="1"/>
<text x="499.2" y="491.24" transform="rotate(0.1 499.2 491.24)" font-size="11.4" fill="#1a1a1a" stroke="#1a1a1a" stroke-width="0.22" text-anchor="end" textLength="20.64" lengthAdjust="spacingAndGlyphs">400</text>
<line x1="469.85" x2="477.05" y1="487.44" y2="487.44" stroke="#1a1a1a" stroke-width="1.05"/>
<text transform="translate(515.35,296.6) rotate(0.1) scale(1.16,1.04)" text-anchor="middle" font-size="22" fill="#d0120c">f</text>
<text x="148.25" y="11.65" transform="rotate(0.1 148.25 11.65)" font-size="13.8" font-weight="bold" fill="#000" stroke="#000" stroke-width="0.12" text-anchor="middle" textLength="86.7" lengthAdjust="spacingAndGlyphs">Scenario A</text>
<text x="371" y="11.65" transform="rotate(0.1 371 11.65)" font-size="13.8" font-weight="bold" fill="#000" stroke="#000" stroke-width="0.12" text-anchor="middle" textLength="85.6" lengthAdjust="spacingAndGlyphs">Scenario B</text>
<text x="594.05" y="11.65" transform="rotate(0.1 594.05 11.65)" font-size="13.8" font-weight="bold" fill="#000" stroke="#000" stroke-width="0.12" text-anchor="middle" textLength="86.1" lengthAdjust="spacingAndGlyphs">Scenario C</text>
<text x="88.6" y="518.45" transform="rotate(0.15 88.6 518.45)" font-size="13.6" font-weight="bold" fill="#000" stroke="#000" stroke-width="0.3" text-anchor="middle" textLength="27.8" lengthAdjust="spacingAndGlyphs">CCS</text>
<text x="148.35" y="518.45" transform="rotate(0.15 148.35 518.45)" font-size="13.6" font-weight="bold" fill="#000" stroke="#000" stroke-width="0.3" text-anchor="middle" textLength="37.8" lengthAdjust="spacingAndGlyphs">BH2S</text>
<text x="207.95" y="518.45" transform="rotate(0.15 207.95 518.45)" font-size="13.6" font-weight="bold" fill="#000" stroke="#000" stroke-width="0.3" text-anchor="middle" textLength="27.8" lengthAdjust="spacingAndGlyphs">AEC</text>
<text x="311.65" y="518.45" transform="rotate(0.15 311.65 518.45)" font-size="13.6" font-weight="bold" fill="#000" stroke="#000" stroke-width="0.3" text-anchor="middle" textLength="27.8" lengthAdjust="spacingAndGlyphs">CCS</text>
<text x="371.4" y="518.45" transform="rotate(0.15 371.4 518.45)" font-size="13.6" font-weight="bold" fill="#000" stroke="#000" stroke-width="0.3" text-anchor="middle" textLength="37.8" lengthAdjust="spacingAndGlyphs">BH2S</text>
<text x="431" y="518.45" transform="rotate(0.15 431 518.45)" font-size="13.6" font-weight="bold" fill="#000" stroke="#000" stroke-width="0.3" text-anchor="middle" textLength="27.8" lengthAdjust="spacingAndGlyphs">AEC</text>
<text x="534.55" y="518.45" transform="rotate(0.15 534.55 518.45)" font-size="13.6" font-weight="bold" fill="#000" stroke="#000" stroke-width="0.3" text-anchor="middle" textLength="27.8" lengthAdjust="spacingAndGlyphs">CCS</text>
<text x="594.3" y="518.45" transform="rotate(0.15 594.3 518.45)" font-size="13.6" font-weight="bold" fill="#000" stroke="#000" stroke-width="0.3" text-anchor="middle" textLength="37.8" lengthAdjust="spacingAndGlyphs">BH2S</text>
<text x="653.9" y="518.45" transform="rotate(0.15 653.9 518.45)" font-size="13.6" font-weight="bold" fill="#000" stroke="#000" stroke-width="0.3" text-anchor="middle" textLength="27.8" lengthAdjust="spacingAndGlyphs">AEC</text>
<g transform="translate(13.3,129.85) rotate(-90)">
<text x="-60.7" y="0" font-size="11.9" font-weight="bold" fill="#000" textLength="26" lengthAdjust="spacingAndGlyphs">NPV</text>
<text x="-30.8" y="0" font-size="11.9" font-weight="bold" fill="#000">[</text>
<line x1="-25.8" x2="16.4" y1="-2.7" y2="-2.7" stroke="#111" stroke-width="0.85"/>
<text x="-16.85" y="-5.8" font-size="8.5" fill="#111" stroke="#111" stroke-width="0.25" textLength="22.8" lengthAdjust="spacingAndGlyphs">2023$</text>
<text x="-25.5" y="4.3" font-size="7.8" font-style="italic" fill="#111" stroke="#111" stroke-width="0.2" textLength="37.6" lengthAdjust="spacingAndGlyphs">Tonne NH</text>
<text x="12.4" y="5.6" font-size="5.8" font-style="italic" fill="#111" stroke="#111" stroke-width="0.15">3</text>
<text x="18" y="0" font-size="11.9" font-weight="bold" fill="#000" stroke="#000" stroke-width="0.25">]</text>
<text x="22.5" y="-1.0" font-size="14.5" font-weight="bold" fill="#000">,</text>
<text x="31.6" y="0" font-size="12.3" font-weight="bold" fill="#000" textLength="29.6" lengthAdjust="spacingAndGlyphs">2026</text>
</g>
<g transform="translate(13.3,390) rotate(-90)">
<text x="-60.7" y="0" font-size="11.9" font-weight="bold" fill="#000" textLength="26" lengthAdjust="spacingAndGlyphs">NPV</text>
<text x="-30.8" y="0" font-size="11.9" font-weight="bold" fill="#000">[</text>
<line x1="-25.8" x2="16.4" y1="-2.7" y2="-2.7" stroke="#111" stroke-width="0.85"/>
<text x="-16.85" y="-5.8" font-size="8.5" fill="#111" stroke="#111" stroke-width="0.25" textLength="22.8" lengthAdjust="spacingAndGlyphs">2023$</text>
<text x="-25.5" y="4.3" font-size="7.8" font-style="italic" fill="#111" stroke="#111" stroke-width="0.2" textLength="37.6" lengthAdjust="spacingAndGlyphs">Tonne NH</text>
<text x="12.4" y="5.6" font-size="5.8" font-style="italic" fill="#111" stroke="#111" stroke-width="0.15">3</text>
<text x="18" y="0" font-size="11.9" font-weight="bold" fill="#000" stroke="#000" stroke-width="0.25">]</text>
<text x="22.5" y="-1.0" font-size="14.5" font-weight="bold" fill="#000">,</text>
<text x="31.6" y="0" font-size="12.3" font-weight="bold" fill="#000" textLength="29.6" lengthAdjust="spacingAndGlyphs">2033</text>
</g>
<rect x="508.7" y="212.3" width="65.3" height="26.6" rx="2" ry="2" fill="#fff" fill-opacity="0.8" stroke="#6a6a6a" stroke-width="1"/>
<rect x="512.3" y="216.3" width="15.9" height="5.8" fill="#7f8280" stroke="#5a5a5a" stroke-width="1"/>
<rect x="512.3" y="228.6" width="15.9" height="5.6" fill="#b4faf4" stroke="#5a5a5a" stroke-width="1"/>
<text x="534.8" y="221.9" font-size="8.3" fill="#1a1a1a" stroke="#1a1a1a" stroke-width="0.18" textLength="35.6" lengthAdjust="spacingAndGlyphs">No Policy</text>
<text x="534.8" y="233.8" font-size="8.3" fill="#1a1a1a" stroke="#1a1a1a" stroke-width="0.18" textLength="12.1" lengthAdjust="spacingAndGlyphs">IRA</text>
</svg></body></html>
